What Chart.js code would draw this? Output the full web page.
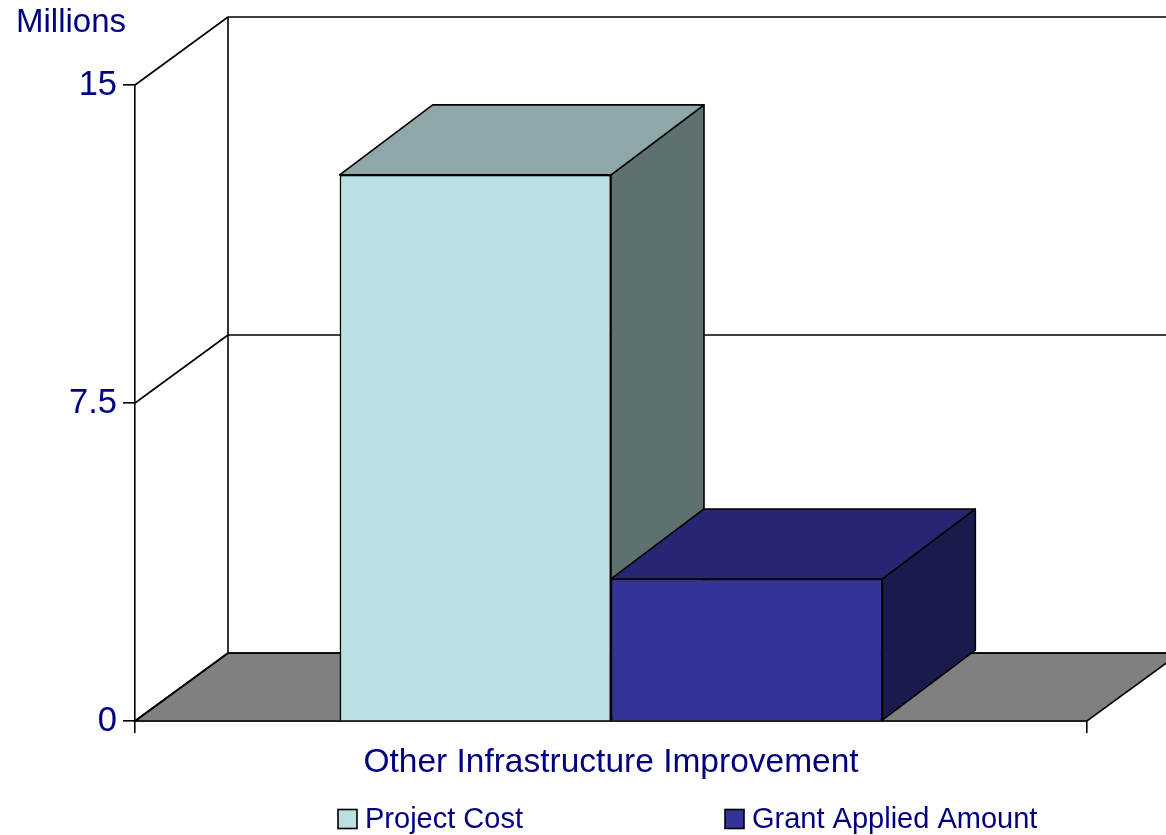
<!DOCTYPE html>
<html lang="en">
<head>
    <meta charset="UTF-8">
    <title>Other Infrastructure Improvement</title>
    <script src="https://cdn.jsdelivr.net/npm/chart.js"></script>
    <style>
        body { margin: 0; background: #fff; }
        #wrap { width: 1166px; height: 835px; }
    </style>
</head>
<body>
<div id="wrap">
    <canvas id="costChart" width="1166" height="835"></canvas>
</div>

<script>
    // values (millions)
    const categories = ['Other Infrastructure Improvement'];
    const seriesNames = ['Project Cost', 'Grant Applied Amount'];
    const projectCost = [12.88];
    const grantApplied = [3.35];
    const yTicks = [0, 7.5, 15];

    const navy = '#000080';
    const fontFamily = '"Liberation Sans", Arial, sans-serif';
    const frontColors = ['#BBE0E3', '#333399'];
    const topColors = ['#8EA8AA', '#262673'];
    const sideColors = ['#5F7071', '#1A1A4D'];

    // 3d depth of walls and bars
    const DX = 93, DY = 68, BDY = 70;
    const LW = 1.6;

    function line(ctx, x1, y1, x2, y2) {
        ctx.beginPath();
        ctx.moveTo(x1, y1);
        ctx.lineTo(x2, y2);
        ctx.stroke();
    }

    function poly(ctx, pts, fill) {
        ctx.beginPath();
        ctx.moveTo(pts[0][0], pts[0][1]);
        for (let i = 1; i < pts.length; i++) ctx.lineTo(pts[i][0], pts[i][1]);
        ctx.closePath();
        ctx.fillStyle = fill;
        ctx.fill();
        ctx.stroke();
    }

    const walls3d = {
        id: 'walls3d',
        beforeDatasetsDraw(chart) {
            const ctx = chart.ctx;
            const a = chart.chartArea;
            const y = chart.scales.y;
            const y0 = y.getPixelForValue(0);
            const yTop = y.getPixelForValue(yTicks[yTicks.length - 1]);
            ctx.save();
            ctx.strokeStyle = '#000';
            ctx.lineWidth = LW;
            // floor
            poly(ctx, [[a.left, y0], [a.left + DX, y0 - DY], [a.right + DX, y0 - DY], [a.right, y0]], '#808080');
            // back wall edge
            line(ctx, a.left + DX, yTop - DY, a.left + DX, y0 - DY);
            // gridlines on back and side walls
            yTicks.forEach(v => {
                const py = y.getPixelForValue(v);
                line(ctx, a.left, py, a.left + DX, py - DY);
                line(ctx, a.left + DX, py - DY, a.right + DX, py - DY);
            });
            ctx.restore();
        },
        afterDatasetsDraw(chart) {
            const ctx = chart.ctx;
            ctx.save();
            ctx.strokeStyle = '#000';
            ctx.lineWidth = LW;
            ctx.lineJoin = 'round';
            chart.data.datasets.forEach((ds, i) => {
                const meta = chart.getDatasetMeta(i);
                meta.data.forEach(bar => {
                    // redraw front so the bars overlap left to right
                    bar.draw(ctx);
                    const l = bar.x - bar.width / 2;
                    const r = bar.x + bar.width / 2;
                    const t = bar.y;
                    const b = bar.base;
                    poly(ctx, [[r, t], [r + DX, t - BDY], [r + DX, b - BDY], [r, b]], sideColors[i]);
                    poly(ctx, [[l, t], [l + DX, t - BDY], [r + DX, t - BDY], [r, t]], topColors[i]);
                });
            });
            ctx.restore();
        },
        afterDraw(chart) {
            // legend along the bottom
            const ctx = chart.ctx;
            const left = 338, colW = 387, boxSize = 19, midY = 819;
            ctx.save();
            ctx.font = '29px ' + fontFamily;
            ctx.textBaseline = 'middle';
            ctx.textAlign = 'left';
            chart.data.datasets.forEach((ds, i) => {
                const x = left + i * colW;
                ctx.fillStyle = frontColors[i];
                ctx.fillRect(x, midY - boxSize / 2, boxSize, boxSize);
                ctx.strokeStyle = '#000';
                ctx.lineWidth = 1.6;
                ctx.strokeRect(x, midY - boxSize / 2, boxSize, boxSize);
                ctx.fillStyle = navy;
                ctx.fillText(ds.label, x + 27, midY + 1);
            });
            ctx.restore();
        }
    };

    new Chart(document.getElementById('costChart').getContext('2d'), {
        type: 'bar',
        data: {
            labels: categories,
            datasets: [
                {
                    label: seriesNames[0],
                    data: projectCost,
                    backgroundColor: frontColors[0],
                    borderColor: '#000',
                    borderWidth: LW
                },
                {
                    label: seriesNames[1],
                    data: grantApplied,
                    backgroundColor: frontColors[1],
                    borderColor: '#000',
                    borderWidth: LW
                }
            ]
        },
        options: {
            responsive: false,
            animation: false,
            layout: { padding: { left: 16, right: 79, top: 3, bottom: 0 } },
            datasets: { bar: { categoryPercentage: 0.57, barPercentage: 1 } },
            plugins: {
                legend: { display: false },
                tooltip: { enabled: false },
                title: {
                    display: true,
                    text: 'Millions',
                    align: 'start',
                    color: navy,
                    font: { family: fontFamily, size: 33, weight: 'normal' },
                    padding: { top: 0, bottom: 42.4 }
                }
            },
            scales: {
                x: {
                    grid: { drawOnChartArea: false, drawTicks: true, tickLength: 12, color: '#000', lineWidth: LW, offset: true },
                    border: { display: true, color: '#000', width: LW },
                    ticks: {
                        color: navy,
                        font: { family: fontFamily, size: 33.5 },
                        padding: 10,
                        maxRotation: 0,
                        autoSkip: false
                    },
                    afterFit(scale) { scale.height = 114; }
                },
                y: {
                    min: 0,
                    max: 15,
                    afterBuildTicks(scale) { scale.ticks = yTicks.map(v => ({ value: v })); },
                    grid: { drawOnChartArea: false, drawTicks: true, tickLength: 12, color: '#000', lineWidth: LW },
                    border: { display: true, color: '#000', width: LW },
                    ticks: {
                        color: navy,
                        font: { family: fontFamily, size: 34.5 },
                        padding: 6
                    },
                    afterFit(scale) { scale.width = 119; }
                }
            }
        },
        plugins: [walls3d]
    });
</script>
</body>
</html>
